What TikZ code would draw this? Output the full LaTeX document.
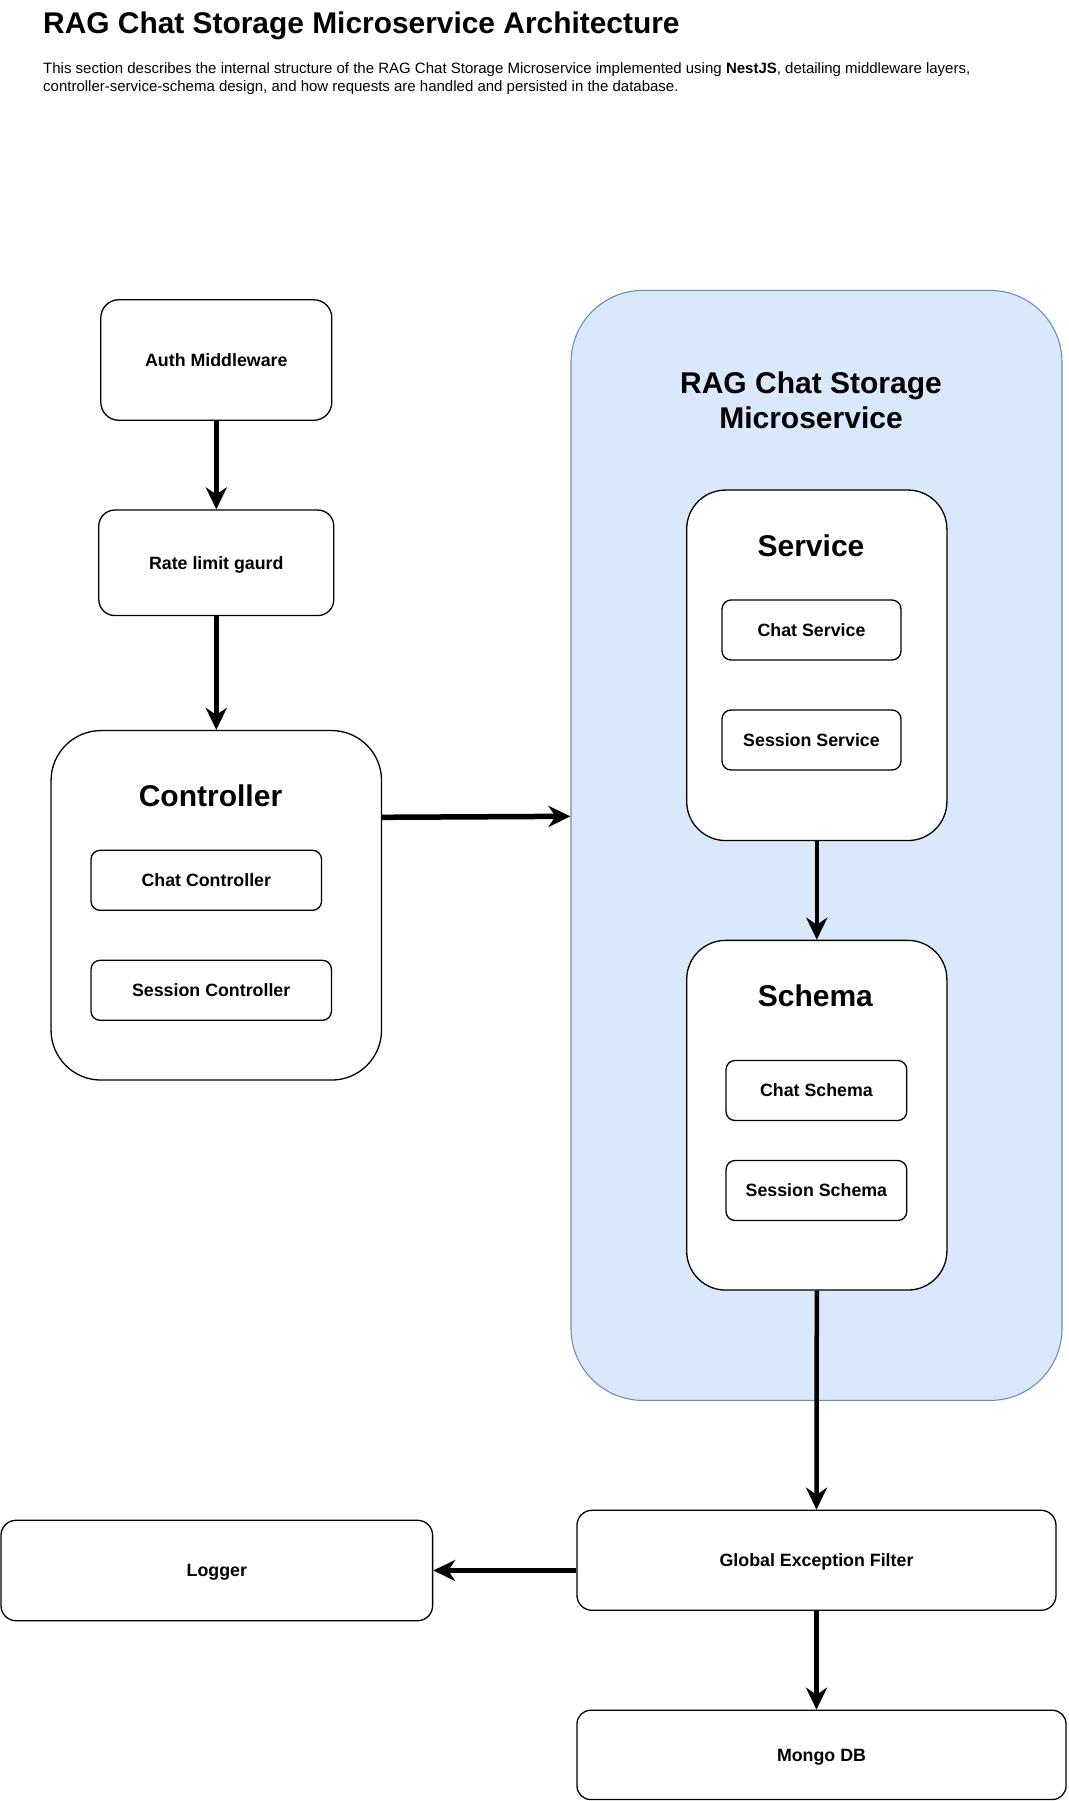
\documentclass[tikz,border=0pt]{standalone}
\usepackage{fontspec}
\setmainfont{Liberation Sans}
\usetikzlibrary{arrows.meta,calc}
\definecolor{bluefill}{HTML}{DAE8FC}
\definecolor{bluedraw}{HTML}{6C8EBF}
\begin{document}
\begin{tikzpicture}[x=1pt,y=-1pt,
  box/.style={draw=black, fill=white, line width=1.3pt, inner sep=0pt,
    font=\fontsize{17.8}{20}\selectfont\bfseries, text height=12.7pt, text depth=0pt, align=center},
  biglabel/.style={inner sep=0pt, font=\fontsize{30}{35}\selectfont\bfseries, text height=21.5pt, text depth=0pt},
  arr/.style={line width=4.5pt, -{Stealth[length=22pt,width=21pt,inset=7pt]}},
  harr/.style={line width=5.5pt, -{Stealth[length=22pt,width=21pt,inset=7pt]}}
]
\useasboundingbox (0,0) rectangle (1068,1801);
\fill[white] (0,0) rectangle (1068,1801);

% heading
\node[anchor=base west, inner sep=0pt, font=\fontsize{29.9}{35}\selectfont\bfseries] (title) at (43,34) {RAG Chat Storage Microservice Architecture};
\node[anchor=base west, inner sep=0pt, font=\fontsize{15}{17}\selectfont] (desc1) at (43,74) {This section describes the internal structure of the RAG Chat Storage Microservice implemented using \textbf{NestJS}, detailing middleware layers,};
\node[anchor=base west, inner sep=0pt, font=\fontsize{15}{17}\selectfont] (desc2) at (43,91) {controller-service-schema design, and how requests are handled and persisted in the database.};

% left column
\node[box, rounded corners=18pt, minimum width=231pt, minimum height=120.5pt] (auth) at (216.3,360) {Auth Middleware};
\node[box, rounded corners=16pt, minimum width=235pt, minimum height=105.5pt] (rate) at (216.3,562.8) {Rate limit gaurd};
\node[box, rounded corners=50pt, minimum width=330.5pt, minimum height=349.5pt] (ctrl) at (216.3,905.3) {};
\node[biglabel] (ctrllabel) at (210.5,796) {Controller};
\node[box, rounded corners=9pt, minimum width=230.5pt, minimum height=60pt] (chatctrl) at (206.3,880.3) {Chat Controller};
\node[box, rounded corners=9pt, minimum width=240.4pt, minimum height=60pt] (sessctrl) at (211.2,990.3) {Session Controller};

% microservice container
\node[draw=bluedraw, fill=bluefill, line width=1.1pt, rounded corners=72pt, inner sep=0pt, minimum width=491pt, minimum height=1110pt] (blue) at (816.5,845.4) {};
\node[anchor=base, inner sep=0pt, font=\fontsize{30}{35}\selectfont\bfseries] (bluetitle1) at (811,393) {RAG Chat Storage};
\node[anchor=base, inner sep=0pt, font=\fontsize{30}{35}\selectfont\bfseries] (bluetitle2) at (811,428.3) {Microservice};

\node[box, rounded corners=39pt, minimum width=260.2pt, minimum height=350.5pt] (service) at (816.8,665.3) {};
\node[biglabel] (servicelabel) at (811,545.5) {Service};
\node[box, rounded corners=9pt, minimum width=179pt, minimum height=60pt] (chatsvc) at (811.5,630) {Chat Service};
\node[box, rounded corners=9pt, minimum width=179pt, minimum height=60pt] (sesssvc) at (811.5,740) {Session Service};

\node[box, rounded corners=39pt, minimum width=260.2pt, minimum height=349.7pt] (schema) at (816.8,1115.2) {};
\node[biglabel] (schemalabel) at (815.4,995.4) {Schema};
\node[box, rounded corners=9pt, minimum width=180.7pt, minimum height=60pt] (chatschema) at (816.4,1090.5) {Chat Schema};
\node[box, rounded corners=9pt, minimum width=180.7pt, minimum height=60pt] (sessschema) at (816.4,1190.5) {Session Schema};

% bottom row
\node[box, rounded corners=15pt, minimum width=479pt, minimum height=100pt] (gef) at (816.5,1560.3) {Global Exception Filter};
\node[box, rounded corners=15pt, minimum width=431.6pt, minimum height=100.4pt] (logger) at (216.8,1570.5) {Logger};
\node[box, rounded corners=13.5pt, minimum width=489pt, minimum height=89.2pt] (mongo) at (821.5,1754.9) {Mongo DB};

% connectors
\draw[arr] (auth.south) -- (rate.north);
\draw[arr] (rate.south) -- (ctrl.north);
\draw[harr] ([yshift=88pt]ctrl.east) -- ([yshift=89pt]ctrl.east -| blue.west);
\draw[arr] (service.south) -- (schema.north);
\draw[arr] (schema.south) -- (gef.north);
\draw[harr] (logger.east -| gef.west) -- (logger.east);
\draw[arr] (gef.south) -- (gef.south |- mongo.north);
\end{tikzpicture}
\end{document}
